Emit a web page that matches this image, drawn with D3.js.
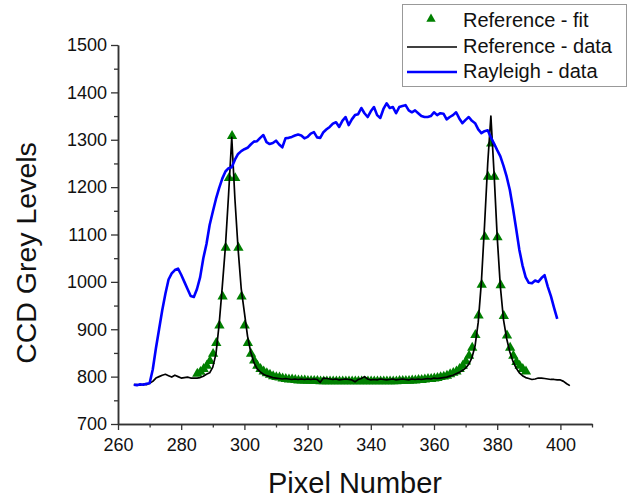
<!DOCTYPE html>
<html>
<head>
<meta charset="utf-8">
<script src="https://cdn.jsdelivr.net/npm/d3@7"></script>
<style>
  html, body { margin: 0; padding: 0; background: #fff; }
  svg { display: block; font-family: "Liberation Sans", Arial, sans-serif; }
</style>
</head>
<body>
<svg id="chart" width="633" height="500"></svg>
<script>
// ---------- data ----------
const seriesNames = ["Reference - fit", "Reference - data", "Rayleigh - data"];
const xTickLabels = [260, 280, 300, 320, 340, 360, 380, 400];
const yTickLabels = [700, 800, 900, 1000, 1100, 1200, 1300, 1400, 1500];

const refPixels = [265,266,267,268,269,270,271,272,273,274,275,276,277,278,279,280,281,282,283,284,
  285,286,287,288,289,290,291,292,293,294,295,296,297,298,299,300,301,302,303,304,305,306,307,308,309,
  310,311,312,313,314,315,316,317,318,319,320,321,322,323,324,325,326,327,328,329,330,331,332,333,334,
  335,336,337,338,339,340,341,342,343,344,345,346,347,348,349,350,351,352,353,354,355,356,357,358,359,
  360,361,362,363,364,365,366,367,368,369,370,371,372,373,374,375,376,377,378,379,380,381,382,383,384,
  385,386,387,388,389,390,391,392,393,394,395,396,397,398,399,400,401,402,403];
const refValues = [783,783,782,784,783,786,790,797,800,803,805,802,799,803,800,797,798,799,797,797,
  797,798,801,805,808,820,848,910,990,1075,1185,1305,1175,1070,985,935,885,852,830,817,810,805,802,800,798,
  797,796,795,796,795,794,795,794,795,794,795,794,795,794,788,797,796,795,794,795,793,794,795,794,793,
  789,794,796,800,795,793,794,793,795,794,793,794,795,793,794,795,794,793,795,794,795,794,795,796,795,
  797,796,797,798,799,801,803,806,809,813,818,826,840,865,915,1000,1120,1250,1350,1230,1095,990,920,880,852,
  832,818,808,802,798,796,794,795,797,797,796,795,794,794,793,793,790,785,781];

const rayPixels = [265,266,267,268,269,270,271,272,273,274,275,276,277,278,279,280,281,282,283,284,
  285,286,287,288,289,290,291,292,293,294,295,296,297,298,299,300,301,302,303,304,305,306,307,308,309,
  310,311,312,313,314,315,316,317,318,319,320,321,322,323,324,325,326,327,328,329,330,331,332,333,334,
  335,336,337,338,339,340,341,342,343,344,345,346,347,348,349,350,351,352,353,354,355,356,357,358,359,
  360,361,362,363,364,365,366,367,368,369,370,371,372,373,374,375,376,377,378,379,380,381,382,383,384,
  385,386,387,388,389,390,391,392,393,394,395,396,397,398,399];
const rayValues = [783,782,784,783,785,786,815,860,900,940,975,1005,1018,1025,1028,1015,1000,985,970,968,
  985,1010,1050,1080,1120,1148,1175,1198,1218,1233,1240,1242,1258,1270,1276,1280,1283,1290,1296,1297,1304,1310,1295,1291,1293,
  1298,1290,1284,1303,1304,1306,1309,1311,1309,1303,1306,1313,1316,1305,1304,1316,1322,1327,1334,1337,1327,1340,1348,1331,1343,
  1352,1354,1367,1356,1348,1360,1369,1352,1346,1365,1377,1367,1369,1356,1369,1371,1373,1362,1358,1362,1356,1350,1348,1348,1350,
  1358,1352,1356,1355,1343,1348,1352,1358,1345,1335,1342,1348,1340,1335,1322,1314,1318,1320,1305,1292,1278,1265,1245,1222,1194,
  1155,1112,1068,1035,1010,998,997,1003,1000,1008,1014,990,970,945,922];

const fitPixels = [285.1,286.1,287.1,288.1,289.1,290.1,291.1,292.1,293.1,294.1,295.1,296.1,297.1,298.1,299.1,
  300.1,301.1,302.1,303.1,304.1,305.1,306.1,307.1,308.1,309.1,310.1,311.1,312.1,313.1,314.1,315.1,316.1,317.1,318.1,319.1,
  320.1,321.1,322.1,323.1,324.1,325.1,326.1,327.1,328.1,329.1,330.1,331.1,332.1,333.1,334.1,335.1,336.1,337.1,338.1,339.1,
  340.1,341.1,342.1,343.1,344.1,345.1,346.1,347.1,348.1,349.1,350.1,351.1,352.1,353.1,354.1,355.1,356.1,357.1,358.1,359.1,
  360.1,361.1,362.1,363.1,364.1,365.1,366.1,367.1,368.1,369.1,370.1,371.1,372.1,373.1,374.1,375.1,376.1,377.1,378.1,379.1,
  380.1,381.1,382.1,383.1,384.1,385.1,386.1,387.1,388.1,389.1];
const fitValues = [806,810,816,823,833,848,871,908,969,1072,1219,1308,1219,1072,969,
  908,871,848,834,823,816,811,807,804,801,799,798,796,795,794,794,793,792,792,792,
  791,791,791,791,790,790,790,790,790,790,790,790,790,790,790,790,790,790,790,790,
  790,790,790,790,790,790,790,790,790,791,791,791,791,792,792,793,793,794,795,795,
  796,797,799,800,802,805,808,811,816,823,832,844,861,888,929,994,1095,1222,1292,1222,
  1094,993,928,887,861,844,831,823,816,811];

// ---------- layout ----------
const svg = d3.select("#chart");
const x = d3.scaleLinear().domain([260, 410]).range([118, 592]);
const y = d3.scaleLinear().domain([700, 1500]).range([424, 45]);
const axisColor = "#333";

// ---------- series ----------
const fitData = fitPixels.map((p, i) => [p, fitValues[i]]);
const refData = refPixels.map((p, i) => [p, refValues[i]]);
const rayData = rayPixels.map((p, i) => [p, rayValues[i]]);

const line = d3.line().x(d => x(d[0])).y(d => y(d[1]));
const tri = d3.symbol(d3.symbolTriangle, 46);

svg.append("g").selectAll("path").data(fitData).join("path")
  .attr("d", tri)
  .attr("transform", d => `translate(${x(d[0])},${y(d[1])})`)
  .attr("fill", "#008000");

svg.append("path").datum(refData)
  .attr("d", line).attr("fill", "none")
  .attr("stroke", "#000").attr("stroke-width", 1.7).attr("stroke-linejoin", "round");

svg.append("path").datum(rayData)
  .attr("d", line).attr("fill", "none")
  .attr("stroke", "#0000ff").attr("stroke-width", 2.6).attr("stroke-linejoin", "round");

// ---------- axes ----------
const xMinor = [270, 290, 310, 330, 350, 370, 390, 410];
const yMinor = [750, 850, 950, 1050, 1150, 1250, 1350, 1450];

const gx = svg.append("g").attr("transform", "translate(0,424)");
gx.call(d3.axisBottom(x).tickValues(xTickLabels).tickFormat(d3.format("d")).tickSize(6).tickSizeOuter(0).tickPadding(8));
gx.append("g").call(d3.axisBottom(x).tickValues(xMinor).tickSize(3.5).tickSizeOuter(0).tickFormat(""));
const gy = svg.append("g").attr("transform", "translate(118,0)");
gy.call(d3.axisLeft(y).tickValues(yTickLabels).tickFormat(d3.format("d")).tickSize(7).tickSizeOuter(0).tickPadding(4));
gy.append("g").call(d3.axisLeft(y).tickValues(yMinor).tickSize(4).tickSizeOuter(0).tickFormat(""));

svg.selectAll(".domain").attr("stroke", axisColor).attr("stroke-width", 1.5);
svg.selectAll(".tick line").attr("stroke", axisColor).attr("stroke-width", 1.3);
svg.selectAll(".tick text").attr("font-size", 18).attr("fill", "#111")
  .attr("font-family", "Liberation Sans, Arial, sans-serif");

// ---------- titles ----------
svg.append("text").attr("x", 355).attr("y", 493).attr("text-anchor", "middle")
  .attr("font-size", 29).attr("fill", "#111").text("Pixel Number");
svg.append("text").attr("transform", "translate(36,253) rotate(-90)").attr("text-anchor", "middle")
  .attr("font-size", 28.5).attr("fill", "#111").text("CCD Grey Levels");

// ---------- legend ----------
const lg = svg.append("g");
lg.append("rect").attr("x", 402.5).attr("y", 4.5).attr("width", 224).attr("height", 82)
  .attr("fill", "#fff").attr("stroke", "#999").attr("stroke-width", 1);
const rows = [27, 53, 78];
lg.append("path").attr("d", d3.symbol(d3.symbolTriangle, 38)).attr("transform", "translate(431,19)").attr("fill", "#008000");
lg.append("line").attr("x1", 407).attr("x2", 457).attr("y1", 47).attr("y2", 47)
  .attr("stroke", "#000").attr("stroke-width", 1.6);
lg.append("line").attr("x1", 407).attr("x2", 457).attr("y1", 72).attr("y2", 72)
  .attr("stroke", "#0000ff").attr("stroke-width", 2.6);
lg.selectAll("text.lab").data(seriesNames).join("text").attr("class", "lab")
  .attr("x", 463).attr("y", (d, i) => rows[i]).attr("font-size", 20).attr("fill", "#111")
  .text(d => d);
</script>
</body>
</html>
